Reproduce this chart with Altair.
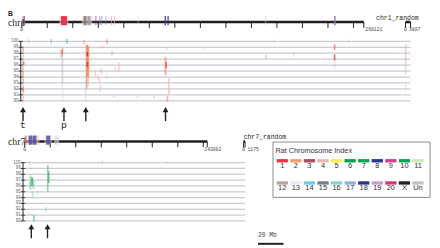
import altair as alt
import pandas as pd

# ---------------- data ----------------
chr1_length_mb = 268.121
chr1_random_length_mb = 3.887
chr7_length_mb = 143.082
chr7_random_length_mb = 1.175
tick_step_mb = 20
identity_levels = list(range(90, 101))

# chr1 ideogram blocks
chr1_blk_start = [0.0, 1.5, 29.5, 30.8, 46.9, 48.5, 51.5, 57.7, 60.8, 62.3, 65.4, 70.0, 72.3, 90.8, 112.0, 114.2, 190.8, 244.6, 245.0]
chr1_blk_end = [2.7, 2.3, 36.5, 35.4, 55.4, 50.8, 53.8, 58.5, 61.6, 63.1, 66.2, 70.8, 73.1, 91.6, 113.0, 115.2, 191.6, 246.0, 245.8]
chr1_blk_color = ["#f2a8a8", "#4a4a9a", "#f8c8c0", "#e8334a", "#f8c8c0", "#7a7d8a", "#9a9cab", "#6a6ab0", "#8080c0", "#8080c0",
                  "#9090c8", "#f09a9a", "#f0b0b0", "#f8c0c0", "#3a3a92", "#3a3a92", "#c8c8e0", "#f2b0b0", "#5a5ab0"]
chr1_blk_alpha = [0.6, 0.9, 0.6, 1.0, 0.55, 0.9, 0.9, 0.8, 0.7, 0.6, 0.6, 0.7, 0.7, 0.5, 0.9, 0.9, 0.6, 0.6, 0.9]

# chr1 alignments: position (Mb), identity top, identity bottom
chr1_aln_mb = [1.15, 1.15, 1.15, 1.15, 1.5, 1.0, 0.4, 5.4, 23.1, 35.4, 30.8, 31.9, 31.9, 31.9, 48.5, 49.2, 50.0, 50.8, 51.5, 52.3,
               51.5, 51.5, 52.0, 57.7, 59.6, 60.8, 61.5, 62.3, 63.1, 66.9, 66.9, 70.8, 72.3, 73.1, 76.2, 90.8, 103.8, 112.7,
               113.2, 113.8, 115.4, 114.2, 142.3, 191.3, 197.7, 213.1, 245.2, 245.2, 245.2, 256.2]
chr1_aln_hi = [99.2, 97.8, 95.0, 93.0, 96.6, 92.3, 95.6, 100.35, 100.4, 100.4, 98.6, 98.8, 97.8, 92.8, 100.3, 100.2, 92.0, 99.4, 99.4, 99.2,
               98.2, 96.5, 94.0, 95.0, 94.5, 94.0, 92.7, 95.5, 99.3, 100.35, 94.3, 98.4, 91.0, 95.6, 96.5, 91.0, 91.0, 97.4,
               96.5, 99.0, 93.8, 90.8, 99.0, 97.8, 100.35, 98.2, 99.5, 97.8, 96.8, 100.35]
chr1_aln_lo = [97.8, 95.0, 93.0, 89.9, 96.0, 91.6, 94.2, 99.65, 99.6, 99.6, 97.2, 97.8, 92.8, 89.9, 99.6, 99.4, 89.9, 92.0, 94.0, 94.0,
               97.5, 95.7, 92.5, 94.2, 93.5, 93.0, 91.5, 94.5, 98.8, 99.5, 93.7, 97.6, 90.5, 95.0, 94.8, 90.4, 90.4, 94.3,
               95.5, 98.5, 91.0, 89.9, 98.5, 97.0, 99.6, 97.4, 98.5, 96.8, 95.5, 99.6]
chr1_aln_color = ["#ef8c7c", "#f3a596", "#ef8c7c", "#f3a596", "#e5504e", "#e5504e", "#f3b0a4", "#c4c4cc", "#8fd0a6", "#5cbf86",
                  "#ec8478", "#df5656", "#b9b9c2", "#c9c9d0", "#f3b0a4", "#f3a596", "#f3b0a4", "#f4946c", "#f48a62", "#f59a72",
                  "#e5363e", "#e5363e", "#f3a596", "#f3a596", "#f3b0a4", "#f3b0a4", "#f3b0a4", "#f3a596", "#f3a596", "#ef8c7c",
                  "#f3b0a4", "#f3a596", "#b8c8e0", "#f3b0a4", "#f3b0a4", "#a8d8b8", "#f3b0a4", "#ef8c7c", "#e5504e", "#f3b0a4",
                  "#f3a596", "#ef8c7c", "#f3c0b4", "#f3a596", "#cfd0d8", "#f3b0a4", "#e8706a", "#e55a58", "#f3b0a4", "#cfd0d8"]
chr1_aln_alpha = [0.5, 0.45, 0.5, 0.45, 0.55, 0.5, 0.35, 0.5, 0.6, 0.6, 0.4, 0.6, 0.5, 0.25, 0.45, 0.4, 0.35, 0.7, 0.9, 0.75,
                  0.9, 0.9, 0.5, 0.45, 0.35, 0.4, 0.4, 0.45, 0.45, 0.55, 0.4, 0.5, 0.4, 0.4, 0.45, 0.45, 0.45, 0.65, 0.7, 0.35,
                  0.5, 0.55, 0.35, 0.45, 0.45, 0.4, 0.6, 0.75, 0.35, 0.45]

chr1r_aln_mb = [0.2, 0.2]
chr1r_aln_hi = [99.6, 93.0]
chr1r_aln_lo = [94.5, 91.5]
chr1r_aln_color = ["#f3b0a4", "#f3c0b4"]
chr1r_aln_alpha = [0.45, 0.3]

chr1_arrow_mb = [1.0, 33.1, 50.2, 112.7]
chr1_arrow_label = ["t", "p", "", ""]

# chr7 ideogram blocks
chr7_blk_start = [0.0, 1.5, 3.1, 6.5, 15.4, 16.9, 23.0]
chr7_blk_end = [1.5, 11.5, 6.2, 9.2, 21.5, 20.0, 27.0]
chr7_blk_color = ["#ee6a78", "#f8c8c0", "#4a50a8", "#4a50a8", "#f8c8c0", "#4a50a8", "#d8d8e0"]
chr7_blk_alpha = [0.8, 0.55, 0.85, 0.85, 0.5, 0.85, 0.6]

chr7_aln_mb = [3.8, 4.6, 5.8, 6.9, 3.8, 6.2, 3.8, 7.3, 10.0, 18.1, 18.8, 16.9, 60.8, 111.5]
chr7_aln_hi = [100.3, 97.8, 97.5, 97.0, 96.8, 95.0, 91.6, 91.0, 95.3, 99.6, 98.5, 92.5, 100.3, 100.3]
chr7_aln_lo = [99.5, 95.4, 96.0, 95.5, 95.8, 94.0, 91.0, 89.9, 94.5, 95.0, 96.5, 91.5, 99.7, 99.7]
chr7_aln_color = ["#a6dab6", "#5cbf80", "#2a9e58", "#5cbf80", "#8ecf9e", "#8ecf9e", "#a6dab6", "#5cbf80", "#a6dab6",
                  "#5cbf80", "#2a9e58", "#8ecf9e", "#a6dab6", "#a6dab6"]
chr7_aln_alpha = [0.45, 0.5, 0.6, 0.5, 0.4, 0.4, 0.35, 0.55, 0.35, 0.55, 0.5, 0.4, 0.45, 0.4]

chr7_arrow_mb = [5.2, 17.9]
chr7_arrow_label = ["", ""]

legend_labels = ["1", "2", "3", "4", "5", "6", "7", "8", "9", "10", "11",
                 "12", "13", "14", "15", "16", "17", "18", "19", "20", "X", "Un"]
legend_colors = ["#e8334a", "#f0a06a", "#a5505a", "#e8b8b0", "#f8ef50", "#00a650", "#00a650", "#2e3192", "#d63c8c", "#00a650", "#cde8b8",
                 "#b8a39c", "#e8eaf4", "#66cce8", "#7a7d8a", "#88d0dc", "#8ab4dc", "#2e3192", "#c8a0c8", "#d6337c", "#231f20", "#c0c0c8"]
scale_bar_mb = 20

# ---------------- layout helpers ----------------
OX = OY = 8
PX_PER_MB = 1.3
GRID = "#c9cbd6"
MONO = "Liberation Mono"
ALPHA_BOOST = 1.2


def px(v):
    return v - OX


def py(v):
    return v - OY


def mb_scale(x0_page):
    return alt.Scale(domain=[0, 100], range=[px(x0_page), px(x0_page) + 100 * PX_PER_MB], nice=False, zero=False)


def id_scale(y100_page, y90_page):
    return alt.Scale(domain=[90, 100], range=[py(y90_page), py(y100_page)], nice=False, zero=False)


def chromosome_panel(g):
    xs, ys = g["xs"], g["ys"]
    L = []
    full_end = g["rnd_off"] + g["rnd_len"]
    gdf = pd.DataFrame({"v": identity_levels})
    gdf["x0"] = 0.0
    gdf["x1"] = full_end
    L.append(alt.Chart(gdf).mark_rule(color=GRID, strokeWidth=1.3).encode(
        x=alt.X("x0:Q", scale=xs, axis=None), x2="x1:Q",
        y=alt.Y("v:Q", scale=ys, axis=None)))
    # y axis
    L.append(alt.Chart(pd.DataFrame({"a": [90], "b": [100]})).mark_rule(color="#231f20", strokeWidth=1).encode(
        x=alt.value(px(g["axis_x"])), y=alt.Y("a:Q", scale=ys, axis=None), y2="b:Q"))
    L.append(alt.Chart(pd.DataFrame({"v": identity_levels})).mark_rule(color="#231f20", strokeWidth=0.9).encode(
        x=alt.value(px(g["axis_x"] - 2.2)), x2=alt.value(px(g["axis_x"] + 2.2)),
        y=alt.Y("v:Q", scale=ys, axis=None)))
    L.append(alt.Chart(pd.DataFrame({"v": identity_levels})).mark_text(
        align="right", baseline="middle", fontSize=4.6, font="Liberation Sans", color="#666").encode(
        x=alt.value(px(g["axis_x"] - 2.3)), y=alt.Y("v:Q", scale=ys, axis=None), text="v:Q"))
    # ideogram line and ticks
    ly = g["line_y"]
    L.append(alt.Chart(pd.DataFrame({"s": [0.0, g["rnd_off"]], "e": [g["length"], full_end]})).mark_rule(
        color="#231f20", strokeWidth=2.6).encode(
        x=alt.X("s:Q", scale=xs, axis=None), x2="e:Q", y=alt.value(py(ly))))
    ticks = list(range(0, int(g["length"]) + 1, tick_step_mb)) + [g["length"], g["rnd_off"], full_end]
    L.append(alt.Chart(pd.DataFrame({"t": ticks})).mark_rule(color="#231f20", strokeWidth=1).encode(
        x=alt.X("t:Q", scale=xs, axis=None), y=alt.value(py(ly)), y2=alt.value(py(ly + 6))))
    bdf = pd.DataFrame({"s": g["blk_s"], "e": g["blk_e"], "c": g["blk_c"], "a": g["blk_a"]})
    L.append(alt.Chart(bdf).mark_rect().encode(
        x=alt.X("s:Q", scale=xs, axis=None), x2="e:Q",
        y=alt.value(py(ly - 6)), y2=alt.value(py(ly + 3.3)),
        color=alt.Color("c:N", scale=None), opacity=alt.Opacity("a:Q", scale=None)))
    # length labels
    L.append(alt.Chart(pd.DataFrame({"m": [0.0, g["rnd_off"]], "t": ["0", "0"]})).mark_text(
        align="center", baseline="middle", fontSize=4.8, font=MONO, color="#444").encode(
        x=alt.X("m:Q", scale=xs, axis=None), y=alt.value(py(ly + 8.5)), text="t:N"))
    L.append(alt.Chart(pd.DataFrame({"m": [g["length"]], "t": [g["len_label"]]})).mark_text(
        align="left", baseline="middle", fontSize=4.8, font=MONO, color="#444", dx=g["len_dx"]).encode(
        x=alt.X("m:Q", scale=xs, axis=None), y=alt.value(py(ly + 8.5)), text="t:N"))
    L.append(alt.Chart(pd.DataFrame({"m": [full_end], "t": [g["rnd_len_label"]]})).mark_text(
        align="left", baseline="middle", fontSize=4.8, font=MONO, color="#444", dx=g["rnd_dx"]).encode(
        x=alt.X("m:Q", scale=xs, axis=None), y=alt.value(py(ly + 8.5)), text="t:N"))
    # names
    L.append(alt.Chart(pd.DataFrame({"t": [g["name"]]})).mark_text(
        align="left", baseline="alphabetic", fontSize=10, font="Liberation Serif", color="#231f20").encode(
        x=alt.value(px(8)), y=alt.value(py(ly + 3.6)), text="t:N"))
    L.append(alt.Chart(pd.DataFrame({"m": [g["rnd_off"]], "t": [g["rnd_name"]]})).mark_text(
        align="left", baseline="middle", fontSize=6.6, font=MONO, color="#231f20", dx=g["rnd_name_dx"]).encode(
        x=alt.X("m:Q", scale=xs, axis=None), y=alt.value(py(ly - 4.5)), text="t:N"))
    # alignments
    adf = pd.DataFrame({"m": g["aln_m"], "h": g["aln_h"], "l": g["aln_l"], "c": g["aln_c"], "a": g["aln_a"]})
    adf["a"] = (adf["a"] * ALPHA_BOOST).clip(upper=1.0)
    L.append(alt.Chart(adf).mark_rule(strokeWidth=1.7).encode(
        x=alt.X("m:Q", scale=xs, axis=None), y=alt.Y("h:Q", scale=ys, axis=None), y2="l:Q",
        color=alt.Color("c:N", scale=None), opacity=alt.Opacity("a:Q", scale=None)))
    # arrows
    ar = pd.DataFrame({"m": g["arrow_m"], "t": g["arrow_t"]})
    ay = g["arrow_y"]
    L.append(alt.Chart(ar).mark_point(shape="triangle-up", filled=True, size=36, color="#231f20", opacity=1).encode(
        x=alt.X("m:Q", scale=xs, axis=None), y=alt.value(py(ay + 2.8))))
    L.append(alt.Chart(ar).mark_rule(color="#231f20", strokeWidth=1.4).encode(
        x=alt.X("m:Q", scale=xs, axis=None), y=alt.value(py(ay + 4.5)), y2=alt.value(py(ay + 14.5))))
    L.append(alt.Chart(ar).mark_text(align="center", baseline="alphabetic", fontSize=10, font=MONO, color="#231f20").encode(
        x=alt.X("m:Q", scale=xs, axis=None), y=alt.value(py(ay + 21.5)), text="t:N"))
    return L


X1 = mb_scale(22.0)
X7 = mb_scale(25.0)
Y1 = id_scale(39.7, 100.3)
Y7 = id_scale(163.3, 222.7)

chr1_rnd_off = (413.0 - 22.0) / PX_PER_MB
chr7_rnd_off = (248.0 - 25.0) / PX_PER_MB

chr1_panel = chromosome_panel(dict(
    xs=X1, ys=Y1, axis_x=21.0, line_y=20.0, arrow_y=106.5, name="chr1",
    length=chr1_length_mb, len_label="268121", len_dx=1.5,
    rnd_off=chr1_rnd_off, rnd_len=chr1_random_length_mb, rnd_len_label="3887", rnd_dx=-1.5,
    rnd_name="chr1_random", rnd_name_dx=-30,
    blk_s=chr1_blk_start, blk_e=chr1_blk_end, blk_c=chr1_blk_color, blk_a=chr1_blk_alpha,
    aln_m=chr1_aln_mb + [chr1_rnd_off + v for v in chr1r_aln_mb],
    aln_h=chr1_aln_hi + chr1r_aln_hi, aln_l=chr1_aln_lo + chr1r_aln_lo,
    aln_c=chr1_aln_color + chr1r_aln_color, aln_a=chr1_aln_alpha + chr1r_aln_alpha,
    arrow_m=chr1_arrow_mb, arrow_t=chr1_arrow_label))

chr7_panel = chromosome_panel(dict(
    xs=X7, ys=Y7, axis_x=23.3, line_y=141.7, arrow_y=225.8, name="chr7",
    length=chr7_length_mb, len_label="143082", len_dx=-3,
    rnd_off=chr7_rnd_off, rnd_len=chr7_random_length_mb, rnd_len_label="1175", rnd_dx=2.5,
    rnd_name="chr7_random", rnd_name_dx=0,
    blk_s=chr7_blk_start, blk_e=chr7_blk_end, blk_c=chr7_blk_color, blk_a=chr7_blk_alpha,
    aln_m=chr7_aln_mb, aln_h=chr7_aln_hi, aln_l=chr7_aln_lo, aln_c=chr7_aln_color, aln_a=chr7_aln_alpha,
    arrow_m=chr7_arrow_mb, arrow_t=chr7_arrow_label))

# ---------------- legend ----------------
n_cols = 11
leg = pd.DataFrame({"lab": legend_labels, "c": legend_colors})
leg["i"] = [k % n_cols for k in range(len(leg))]
leg["r"] = [k // n_cols for k in range(len(leg))]
LX = alt.Scale(domain=[0, 10], range=[px(281.7), px(420.0)], nice=False, zero=False)
LY = alt.Scale(domain=[0, 1], range=[py(159.7), py(182.3)], nice=False, zero=False)

legend_layers = [
    alt.Chart(pd.DataFrame({"k": [0]})).mark_rect(fill="white", stroke="#8a8a8a", strokeWidth=1).encode(
        x=alt.value(px(278.0)), x2=alt.value(px(438.0)), y=alt.value(py(142.3)), y2=alt.value(py(198.7))),
    alt.Chart(pd.DataFrame({"t": ["Rat Chromosome Index"]})).mark_text(
        align="left", baseline="middle", fontSize=7.4, font="Liberation Sans", color="#333").encode(
        x=alt.value(px(280.5)), y=alt.value(py(151.5)), text="t:N"),
    alt.Chart(leg).transform_calculate(i2="datum.i + 0.83", r2="datum.r + 0.15").mark_rect().encode(
        x=alt.X("i:Q", scale=LX, axis=None), x2="i2:Q",
        y=alt.Y("r:Q", scale=LY, axis=None), y2="r2:Q",
        color=alt.Color("c:N", scale=None)),
    alt.Chart(leg).transform_calculate(ic="datum.i + 0.415", rl="datum.r + 0.30").mark_text(
        align="center", baseline="middle", fontSize=7.6, font="Liberation Sans", color="#333").encode(
        x=alt.X("ic:Q", scale=LX, axis=None), y=alt.Y("rl:Q", scale=LY, axis=None), text="lab:N"),
]

# scale bar (drawn with the chr7 genomic scale)
sb_start = (262.7 - 25.0) / PX_PER_MB
sb = pd.DataFrame({"s": [sb_start], "e": [sb_start + scale_bar_mb], "t": [f"{scale_bar_mb} Mb"]})
scale_layers = [
    alt.Chart(sb).mark_rule(color="#231f20", strokeWidth=2).encode(
        x=alt.X("s:Q", scale=X7, axis=None), x2="e:Q", y=alt.value(py(246.0))),
    alt.Chart(sb).mark_text(align="left", baseline="middle", fontSize=6.4, font=MONO, color="#444").encode(
        x=alt.X("s:Q", scale=X7, axis=None), y=alt.value(py(237.0)), text="t:N"),
]

title_layer = alt.Chart(pd.DataFrame({"t": ["B"]})).mark_text(
    align="left", baseline="top", fontSize=7, font="Liberation Sans", fontWeight="bold", color="#231f20").encode(
    x=alt.value(px(8)), y=alt.value(py(8)), text="t:N")

chart = alt.layer(*(chr1_panel + chr7_panel + legend_layers + scale_layers + [title_layer])).resolve_scale(
    x="independent", y="independent").properties(
    width=432, height=240, autosize=alt.AutoSizeParams(type="none"), padding=0,
    background="white").configure_view(stroke=None)

chart.save("out.html", embed_options={"renderer": "svg", "actions": False})
